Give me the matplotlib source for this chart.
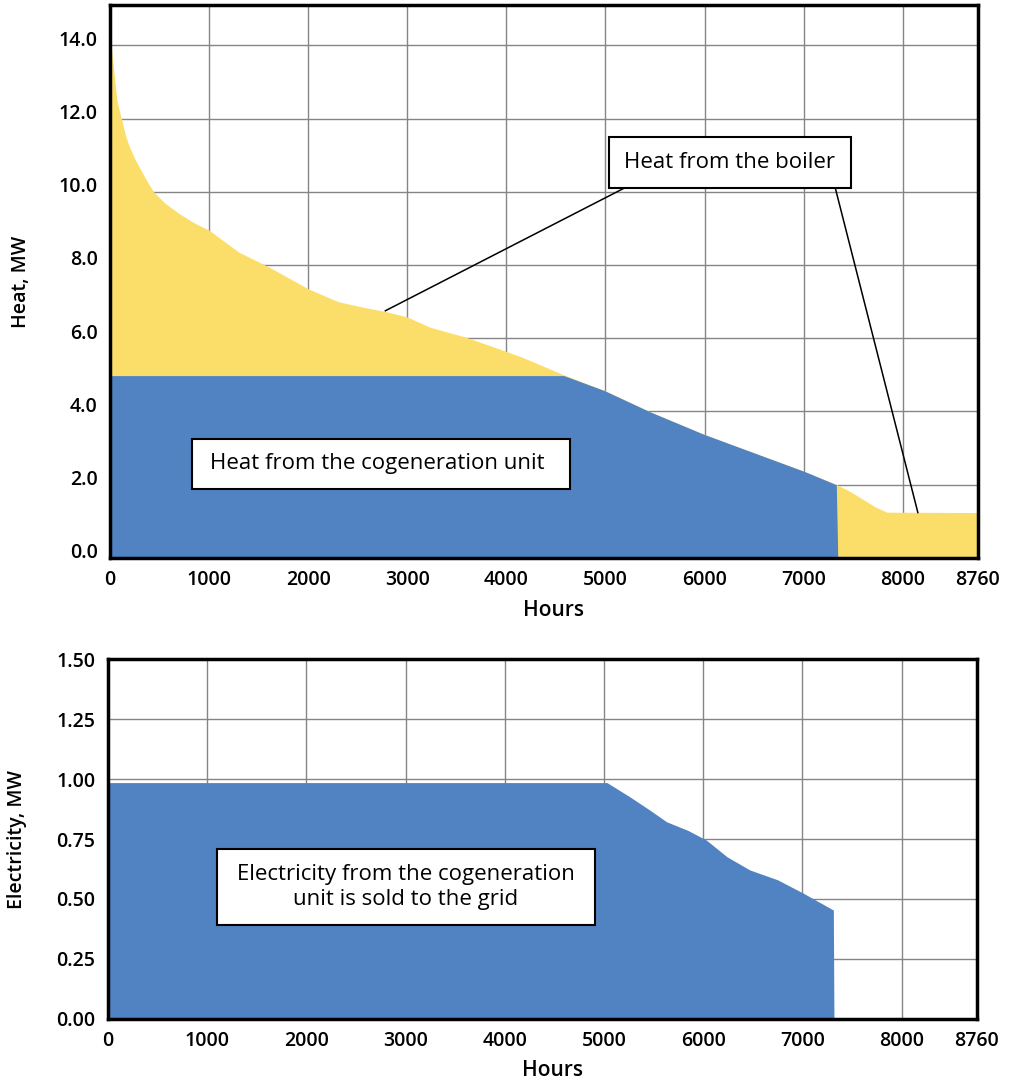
import matplotlib
matplotlib.use("Agg")
from matplotlib import pyplot as plt
from matplotlib.patches import Rectangle
from matplotlib.transforms import ScaledTranslation

plt.rcParams['font.family'] = ['Open Sans', 'DejaVu Sans']

# total heat demand curve (top edge of the yellow area), MW vs hours
heat_hours = [0, 15, 30, 50, 70, 95, 120, 160, 200, 250, 300, 370, 440, 550, 700, 850,
              1000, 1150, 1300, 1450, 1600, 1800, 2000, 2300, 2550,
              2780, 3000, 3230, 3590, 4000, 4170, 4580, 4990, 5450, 5990, 7010, 7335,
              7480, 7600, 7720, 7840, 8760]
heat_total = [14.0, 13.9, 13.5, 13.0, 12.5, 12.2, 11.95, 11.5, 11.2, 10.9, 10.65, 10.3, 10.0,
              9.7, 9.4, 9.15, 8.95, 8.65, 8.35, 8.15, 7.95, 7.65, 7.35, 7.0, 6.85,
              6.73, 6.58, 6.3, 6.03, 5.64, 5.47, 5.0, 4.57, 3.99, 3.38, 2.36, 2.0,
              1.8, 1.6, 1.4, 1.25, 1.24]

# heat from the cogeneration unit (blue area)
chp_hours = [0, 4580, 4990, 5450, 5990, 7010, 7330, 7345]
chp_heat = [4.98, 4.98, 4.57, 3.99, 3.38, 2.36, 2.0, 0.0]

# electricity from the cogeneration unit
elec_hours = [0, 5030, 5260, 5460, 5630, 5850, 6030, 6240, 6470, 6750, 7010, 7312, 7318]
elec_mw = [0.985, 0.985, 0.926, 0.871, 0.822, 0.785, 0.746, 0.676, 0.621, 0.58, 0.524,
           0.454, 0.0]

x_ticks = [0, 1000, 2000, 3000, 4000, 5000, 6000, 7000, 8000, 8760]
heat_ticks = [0, 2, 4, 6, 8, 10, 12, 14]
elec_ticks = [0, 0.25, 0.5, 0.75, 1.0, 1.25, 1.5]

YELLOW = '#FBDE6A'
BLUE = '#5183C2'
FS = 14
NOTE_FS = 16

fig = plt.figure(figsize=(10.12, 10.83), dpi=100)
ax1 = fig.add_axes([0.1087, 0.4848, 0.8577, 0.5106])
ax2 = fig.add_axes([0.1067, 0.0591, 0.8587, 0.3324])


def style(ax, yticks, fmt, ylim, label_y):
    ax.set_xlim(0, 8760)
    ax.set_ylim(*ylim)
    ax.set_xticks(x_ticks)
    ax.set_xticklabels([str(t) for t in x_ticks])
    ax.set_yticks(yticks)
    ax.set_yticklabels([fmt % t for t in yticks])
    ax.grid(True, color='#858585', linewidth=1.0)
    ax.set_axisbelow(True)
    ax.tick_params(length=0, labelsize=FS, pad=9)
    for lbl in ax.get_xticklabels() + ax.get_yticklabels():
        lbl.set_fontweight('semibold')
    for s in ax.spines.values():
        s.set_linewidth(2.5)
        s.set_zorder(5)
    ax.set_xlabel('Hours', fontsize=FS + 1, fontweight='semibold')
    ax.xaxis.set_label_coords(0.511, label_y)


# top: heat
ax1.fill_between(heat_hours, heat_total, 0, color=YELLOW, linewidth=0, zorder=2)
ax1.fill_between(chp_hours, chp_heat, 0, color=BLUE, linewidth=0, zorder=3)
style(ax1, heat_ticks, '%.1f', (0, 15.1), -0.076)
ax1.set_ylabel('Heat, MW', fontsize=FS, fontweight='semibold', labelpad=20)
# y labels in the top panel sit a little above their gridlines
up = ScaledTranslation(0, 7 / 100, fig.dpi_scale_trans)
for lbl in ax1.get_yticklabels():
    lbl.set_transform(lbl.get_transform() + up)

ax1.add_patch(Rectangle((5032, 10.1), 2445, 1.4, facecolor='white', edgecolor='black',
                        linewidth=1.5, zorder=6))
ax1.text(6255, 10.8, 'Heat from the boiler', ha='center', va='center',
         fontsize=NOTE_FS, fontweight='medium', zorder=7)
ax1.plot([5190, 2779], [10.1, 6.75], color='black', linewidth=1.1, zorder=6)
ax1.plot([7320, 8153], [10.1, 1.24], color='black', linewidth=1.1, zorder=6)

ax1.add_patch(Rectangle((829, 1.88), 3811, 1.38, facecolor='white', edgecolor='black',
                        linewidth=1.5, zorder=6))
ax1.text(2700, 2.57, 'Heat from the cogeneration unit', ha='center', va='center',
         fontsize=NOTE_FS, fontweight='medium', zorder=7)

# bottom: electricity
ax2.fill_between(elec_hours, elec_mw, 0, color=BLUE, linewidth=0, zorder=3)
style(ax2, elec_ticks, '%.2f', (0, 1.5), -0.113)
ax2.set_ylabel('Electricity, MW', fontsize=FS, fontweight='semibold', labelpad=21)

ax2.add_patch(Rectangle((1099, 0.392), 3810, 0.316, facecolor='white', edgecolor='black',
                        linewidth=1.5, zorder=6))
ax2.text(3004, 0.55, 'Electricity from the cogeneration\nunit is sold to the grid',
         ha='center', va='center', fontsize=NOTE_FS, fontweight='medium',
         linespacing=1.25, zorder=7)

fig.savefig('out.png', dpi=100)
